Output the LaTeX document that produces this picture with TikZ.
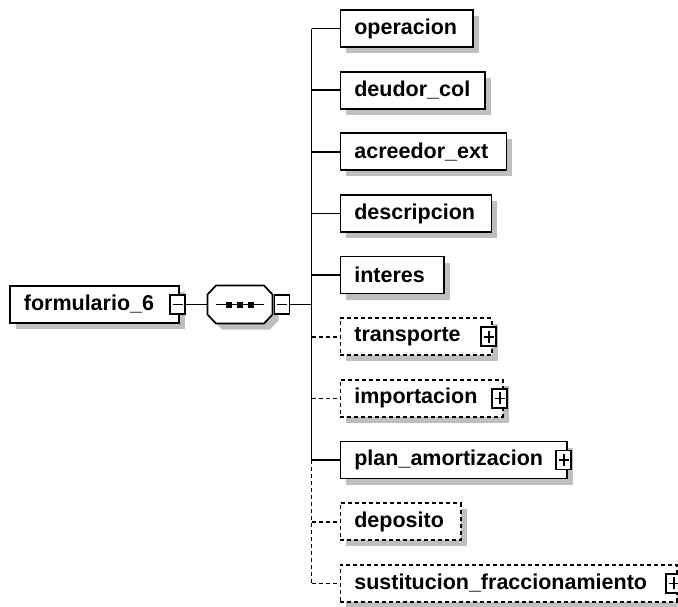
\documentclass[tikz,border=0pt]{standalone}
\usepackage{fontspec}
\setmainfont{Liberation Sans}
\usetikzlibrary{shadows}
\tikzset{
  lw/.style={line width=1.7pt},
  shad/.style={drop shadow={shadow xshift=6pt,shadow yshift=-6pt,shadow scale=1,fill=black!25,opacity=1}},
  elem/.style={draw,lw,fill=white,anchor=west,minimum height=37pt,inner xsep=14pt,inner ysep=0pt,
    text width=#1,align=left,font=\bfseries\fontsize{21.5}{24}\selectfont,shad},
  optelem/.style={elem=#1,dash pattern=on 4pt off 3pt},
  tog/.style={draw,lw,fill=white,minimum width=15pt,minimum height=19pt,inner sep=0pt,solid},
  minusbox/.style={tog,path picture={\draw[lw] ([xshift=-5pt]path picture bounding box.center) -- ([xshift=5pt]path picture bounding box.center);}},
  plusbox/.style={tog,path picture={\draw[lw] ([xshift=-5pt]path picture bounding box.center) -- ([xshift=5pt]path picture bounding box.center);
     \draw[lw] ([yshift=-6pt]path picture bounding box.center) -- ([yshift=6pt]path picture bounding box.center);}},
  conn/.style={lw},
  optconn/.style={lw,dash pattern=on 4pt off 3pt},
}
\def\octo{+(-32.5,-10) -- +(-24,-19) -- +(24,-19) -- +(32.5,-10) -- +(32.5,10) -- +(24,19) -- +(-24,19) -- +(-32.5,10) -- cycle}
\begin{document}
\begin{tikzpicture}[x=1pt,y=-1pt]
\useasboundingbox (0,0) rectangle (678,606);
% root
\node[elem=141pt] (root) at (9,304.5) {formulario\_6};
\node[minusbox] (rmin) at ([xshift=-2pt]root.east) {};
% sequence compositor
\node[minimum width=65pt,minimum height=38pt,inner sep=0pt] (seq) at (240,304.5) {};
\fill[black!25] ([shift={(6,6)}]seq.center) \octo;
\filldraw[fill=white,lw] (seq.center) \octo;
\draw[lw] ([xshift=9pt]seq.west) -- ([xshift=-9pt]seq.east);
\foreach \dx in {-11,0,11}{\fill ([xshift=\dx pt]seq.center) +(-3,-3) rectangle +(3,3);}
\node[minusbox] (smin) at (282,304.5) {};
\draw[conn] (rmin.east) -- (seq.west);
\coordinate (tx) at (311.5,304.5);
\draw[conn] (smin.east) -- (tx);
% children
\node[elem=104.5pt] (c0) at (339.5,28.5) {operacion};
\node[elem=116.5pt] (c1) at (339.5,90.2) {deudor\_col};
\node[elem=138pt] (c2) at (339.5,151.8) {acreedor\_ext};
\node[elem=123pt] (c3) at (339.5,213.5) {descripcion};
\node[elem=75.5pt] (c4) at (339.5,275.1) {interes};
\node[optelem=123.5pt] (c5) at (339.5,336.8) {transporte};
\node[plusbox] (p5) at ([xshift=-4pt]c5.east) {};
\node[optelem=134.5pt] (c6) at (339.5,398.4) {importacion};
\node[plusbox] (p6) at ([xshift=-4pt]c6.east) {};
\node[elem=198.5pt] (c7) at (339.5,460.1) {plan\_amortizacion};
\node[plusbox] (p7) at ([xshift=-4pt]c7.east) {};
\node[optelem=92.5pt] (c8) at (339.5,521.7) {deposito};
\node[optelem=308.5pt] (c9) at (339.5,583.4) {sustitucion\_fraccionamiento};
\node[plusbox] (p9) at ([xshift=-4pt]c9.east) {};
% trunk
\draw[conn] (c0.west -| tx) -- (c7.west -| tx);
\draw[optconn] (c7.west -| tx) -- (c9.west -| tx);
\foreach \i in {0,1,2,3,4,7}{\draw[conn] (c\i.west -| tx) -- (c\i.west);}
\foreach \i in {5,6,8,9}{\draw[optconn] (c\i.west -| tx) -- (c\i.west);}
\end{tikzpicture}
\end{document}
